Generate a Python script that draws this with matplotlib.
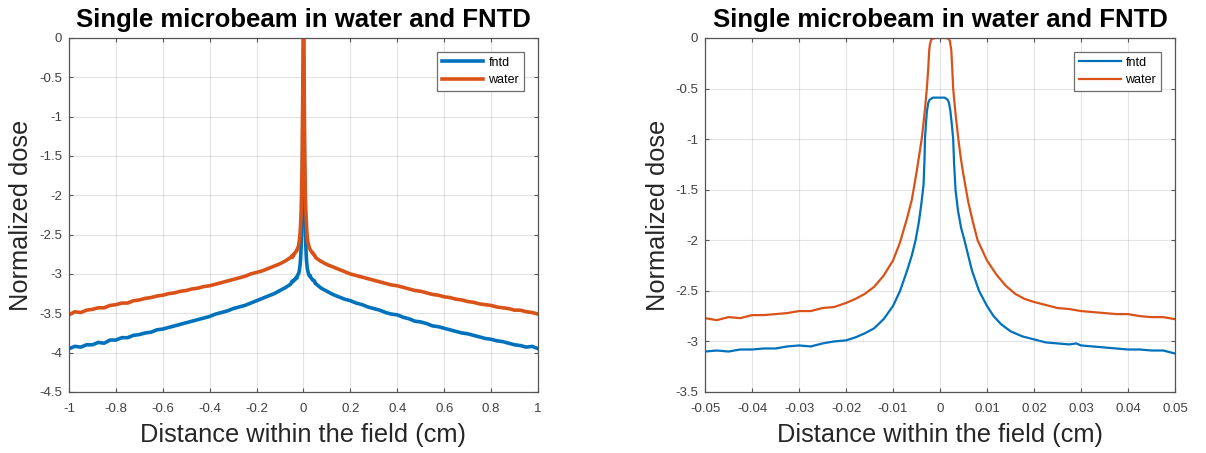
import numpy as np
from matplotlib import pyplot as plt

plt.rcParams['font.family'] = ['Liberation Sans', 'DejaVu Sans']

# ---- left panel: wide profile (cm), tails only; centre comes from the zoomed data
x_wide_left = [-1.000, -0.975, -0.950, -0.925, -0.900, -0.875, -0.850, -0.825, -0.800, -0.775,
               -0.750, -0.725, -0.700, -0.675, -0.650, -0.625, -0.600, -0.575, -0.550, -0.525,
               -0.500, -0.475, -0.450, -0.425, -0.400, -0.375, -0.350, -0.325, -0.300, -0.275,
               -0.250, -0.225, -0.200, -0.175, -0.150, -0.125, -0.100, -0.075, -0.055]
fntd_wide_left = [-3.95, -3.92, -3.93, -3.90, -3.90, -3.87, -3.88, -3.84, -3.84, -3.81,
                  -3.81, -3.78, -3.77, -3.75, -3.74, -3.71, -3.70, -3.68, -3.66, -3.64,
                  -3.62, -3.60, -3.58, -3.56, -3.54, -3.51, -3.49, -3.47, -3.44, -3.42,
                  -3.40, -3.37, -3.34, -3.31, -3.28, -3.25, -3.21, -3.17, -3.13]
water_wide_left = [-3.52, -3.48, -3.49, -3.46, -3.45, -3.43, -3.43, -3.40, -3.39, -3.37,
                   -3.37, -3.34, -3.33, -3.31, -3.30, -3.28, -3.27, -3.25, -3.24, -3.22,
                   -3.21, -3.19, -3.18, -3.16, -3.15, -3.13, -3.11, -3.09, -3.07, -3.05,
                   -3.03, -3.00, -2.98, -2.96, -2.93, -2.90, -2.87, -2.83, -2.79]

x_wide_right = [0.055, 0.075, 0.100, 0.125, 0.150, 0.175, 0.200, 0.225, 0.250, 0.275,
                0.300, 0.325, 0.350, 0.375, 0.400, 0.425, 0.450, 0.475, 0.500, 0.525,
                0.550, 0.575, 0.600, 0.625, 0.650, 0.675, 0.700, 0.725, 0.750, 0.775,
                0.800, 0.825, 0.850, 0.875, 0.900, 0.925, 0.950, 0.975, 1.000]
fntd_wide_right = [-3.13, -3.18, -3.22, -3.26, -3.29, -3.32, -3.34, -3.37, -3.39, -3.42,
                   -3.44, -3.46, -3.49, -3.51, -3.52, -3.55, -3.57, -3.60, -3.61, -3.63,
                   -3.66, -3.67, -3.69, -3.71, -3.73, -3.75, -3.76, -3.78, -3.80, -3.82,
                   -3.83, -3.85, -3.86, -3.88, -3.90, -3.91, -3.93, -3.92, -3.95]
water_wide_right = [-2.80, -2.84, -2.88, -2.91, -2.94, -2.97, -3.00, -3.02, -3.04, -3.06,
                    -3.08, -3.10, -3.12, -3.14, -3.15, -3.17, -3.19, -3.21, -3.22, -3.24,
                    -3.26, -3.27, -3.29, -3.30, -3.32, -3.33, -3.35, -3.36, -3.38, -3.39,
                    -3.40, -3.42, -3.43, -3.44, -3.46, -3.46, -3.48, -3.49, -3.51]

# ---- right panel: zoom on the microbeam (cm)
x_water_zoom = [-0.050, -0.0475, -0.045, -0.0425, -0.040, -0.0375, -0.035, -0.0325, -0.030, -0.0275,
                -0.025, -0.0225, -0.020, -0.018, -0.016, -0.014, -0.012, -0.010, -0.0085, -0.007,
                -0.006, -0.005, -0.0045, -0.0039, -0.0033, -0.0028, -0.0025, -0.0023, -0.0021, -0.0018,
                -0.001, 0.0, 0.001, 0.0018, 0.0021, 0.0024, 0.0026, 0.0028, 0.0033, 0.0039,
                0.0044, 0.0049, 0.006, 0.007, 0.008, 0.010, 0.012, 0.014, 0.016, 0.018,
                0.020, 0.0225, 0.025, 0.0275, 0.030, 0.0325, 0.035, 0.0375, 0.040, 0.0425,
                0.045, 0.0475, 0.050]
water_zoom = [-2.77, -2.79, -2.76, -2.77, -2.74, -2.74, -2.73, -2.72, -2.70, -2.70,
              -2.67, -2.66, -2.62, -2.58, -2.53, -2.46, -2.35, -2.20, -2.02, -1.78,
              -1.60, -1.33, -1.18, -1.00, -0.75, -0.50, -0.30, -0.12, -0.05, -0.01,
              0.00, 0.00, 0.00, -0.005, -0.03, -0.12, -0.30, -0.50, -0.75, -1.00,
              -1.18, -1.33, -1.62, -1.82, -2.00, -2.20, -2.34, -2.45, -2.53, -2.58,
              -2.61, -2.64, -2.67, -2.68, -2.70, -2.71, -2.72, -2.73, -2.73, -2.75,
              -2.76, -2.76, -2.78]

x_fntd_zoom = [-0.050, -0.0475, -0.045, -0.0425, -0.040, -0.0375, -0.035, -0.0325, -0.030, -0.0275,
               -0.025, -0.0225, -0.020, -0.018, -0.016, -0.014, -0.012, -0.010, -0.0085, -0.007,
               -0.006, -0.0052, -0.0045, -0.004, -0.0035, -0.0033, -0.0032, -0.003, -0.0028, -0.0025,
               -0.0022, -0.0015, 0.0, 0.001, 0.0016, 0.0019, 0.0022, 0.0025, 0.0028, 0.003,
               0.0033, 0.0038, 0.0045, 0.0052, 0.0068, 0.0083, 0.010, 0.0114, 0.013, 0.015,
               0.0175, 0.020, 0.0225, 0.025, 0.0275, 0.029, 0.030, 0.0325, 0.035, 0.0375,
               0.040, 0.0425, 0.045, 0.0475, 0.050]
fntd_zoom = [-3.10, -3.09, -3.10, -3.08, -3.08, -3.07, -3.07, -3.05, -3.04, -3.05,
             -3.02, -3.00, -2.99, -2.96, -2.92, -2.87, -2.78, -2.65, -2.50, -2.30,
             -2.15, -2.00, -1.82, -1.65, -1.45, -1.20, -1.00, -0.85, -0.73, -0.64,
             -0.61, -0.59, -0.59, -0.59, -0.61, -0.64, -0.72, -0.85, -1.00, -1.25,
             -1.50, -1.70, -1.88, -2.00, -2.30, -2.50, -2.65, -2.75, -2.83, -2.90,
             -2.95, -2.98, -3.01, -3.02, -3.03, -3.02, -3.04, -3.05, -3.06, -3.07,
             -3.08, -3.08, -3.09, -3.09, -3.12]

blue = '#0072BD'
orange = '#D95319'
title = 'Single microbeam in water and FNTD'


def style_axes(ax):
    ax.grid(True, color='#262626', alpha=0.12, linewidth=0.8)
    ax.tick_params(direction='in', top=True, right=True, labelsize=9.5,
                   labelcolor='#404040', color='#555555', length=3)
    ax.tick_params(axis='x', pad=8)
    ax.tick_params(axis='y', pad=5)
    for s in ax.spines.values():
        s.set_color('#555555')
        s.set_linewidth(0.9)
    ax.set_title(title, fontsize=18.5, fontweight='bold', pad=8)
    ax.set_xlabel('Distance within the field (cm)', fontsize=18.3, color='#262626', labelpad=6)
    ax.set_ylabel('Normalized dose', fontsize=18.3, color='#262626', labelpad=4)
    leg = ax.legend(loc='upper right', fontsize=9, handlelength=3.3,
                    fancybox=False, framealpha=1, edgecolor='#6e6e6e',
                    borderaxespad=1.1, handletextpad=0.4, labelspacing=0.45)
    leg.get_frame().set_linewidth(0.9)


fig = plt.figure(figsize=(12.06, 4.53), dpi=100)

# left
ax1 = fig.add_axes([0.0572, 0.1347, 0.3889, 0.7815])
x_w = np.concatenate([x_wide_left, x_fntd_zoom, x_wide_right])
y_f = np.concatenate([fntd_wide_left, fntd_zoom, fntd_wide_right])
x_o = np.concatenate([x_wide_left, x_water_zoom, x_wide_right])
y_o = np.concatenate([water_wide_left, water_zoom, water_wide_right])
ax1.plot(x_w, y_f, color=blue, linewidth=2.6, label='fntd', solid_joinstyle='round')
ax1.plot(x_o, y_o, color=orange, linewidth=2.6, label='water', solid_joinstyle='round')
ax1.set_xlim(-1, 1)
ax1.set_ylim(-4.5, 0)
ax1.set_xticks(np.arange(-1, 1.01, 0.2))
ax1.set_xticklabels(['-1', '-0.8', '-0.6', '-0.4', '-0.2', '0', '0.2', '0.4', '0.6', '0.8', '1'])
ax1.set_yticks(np.arange(-4.5, 0.01, 0.5))
ax1.set_yticklabels(['-4.5', '-4', '-3.5', '-3', '-2.5', '-2', '-1.5', '-1', '-0.5', '0'])
style_axes(ax1)

# right
ax2 = fig.add_axes([0.5846, 0.1347, 0.3897, 0.7815])
ax2.plot(x_fntd_zoom, fntd_zoom, color=blue, linewidth=1.6, label='fntd', solid_joinstyle='round')
ax2.plot(x_water_zoom, water_zoom, color=orange, linewidth=1.6, label='water', solid_joinstyle='round')
ax2.set_xlim(-0.05, 0.05)
ax2.set_ylim(-3.5, 0)
ax2.set_xticks(np.arange(-0.05, 0.0501, 0.01))
ax2.set_xticklabels(['-0.05', '-0.04', '-0.03', '-0.02', '-0.01', '0', '0.01', '0.02', '0.03', '0.04', '0.05'])
ax2.set_yticks(np.arange(-3.5, 0.01, 0.5))
ax2.set_yticklabels(['-3.5', '-3', '-2.5', '-2', '-1.5', '-1', '-0.5', '0'])
style_axes(ax2)

fig.savefig('out.png', dpi=100)
